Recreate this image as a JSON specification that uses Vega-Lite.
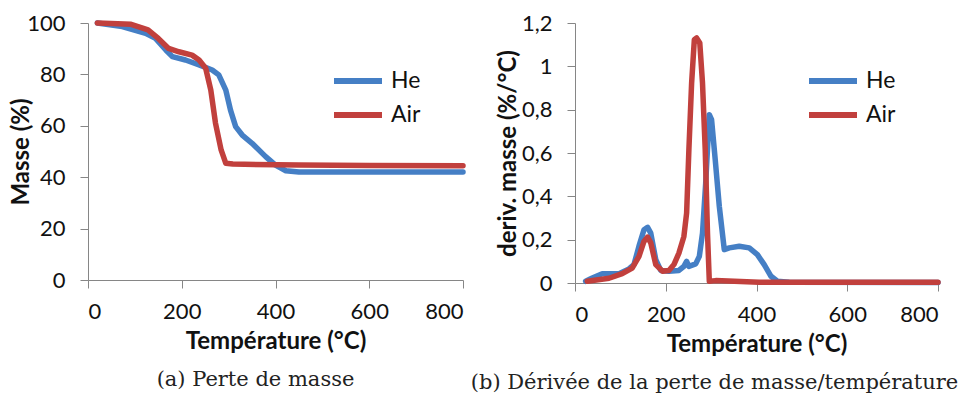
{
  "$schema": "https://vega.github.io/schema/vega-lite/v6.json",
  "padding": {"left": 9, "top": 12, "right": 0, "bottom": 0},
  "bounds": "flush",
  "spacing": 112,
  "datasets": {
    "masse": [
      {"gaz": "He", "T": 20, "v": 100}, {"gaz": "He", "T": 73, "v": 98.6}, {"gaz": "He", "T": 123, "v": 96.0}, {"gaz": "He", "T": 144, "v": 94.0}, {"gaz": "He", "T": 166, "v": 89.5}, {"gaz": "He", "T": 180, "v": 86.9}, {"gaz": "He", "T": 208, "v": 85.6}, {"gaz": "He", "T": 237, "v": 83.7}, {"gaz": "He", "T": 265, "v": 81.7}, {"gaz": "He", "T": 279, "v": 79.8}, {"gaz": "He", "T": 294, "v": 73.9}, {"gaz": "He", "T": 304, "v": 66.1}, {"gaz": "He", "T": 315, "v": 59.7}, {"gaz": "He", "T": 329, "v": 56.4}, {"gaz": "He", "T": 350, "v": 53.2}, {"gaz": "He", "T": 379, "v": 48.0}, {"gaz": "He", "T": 400, "v": 44.7}, {"gaz": "He", "T": 422, "v": 42.5}, {"gaz": "He", "T": 450, "v": 42.0}, {"gaz": "He", "T": 600, "v": 42.0}, {"gaz": "He", "T": 800, "v": 42.0},
      {"gaz": "Air", "T": 20, "v": 100}, {"gaz": "Air", "T": 92, "v": 99.5}, {"gaz": "Air", "T": 128, "v": 97.3}, {"gaz": "Air", "T": 150, "v": 94.0}, {"gaz": "Air", "T": 172, "v": 90.1}, {"gaz": "Air", "T": 194, "v": 88.8}, {"gaz": "Air", "T": 222, "v": 87.5}, {"gaz": "Air", "T": 237, "v": 85.6}, {"gaz": "Air", "T": 251, "v": 82.4}, {"gaz": "Air", "T": 262, "v": 73.9}, {"gaz": "Air", "T": 272, "v": 61.0}, {"gaz": "Air", "T": 284, "v": 50.6}, {"gaz": "Air", "T": 294, "v": 45.4}, {"gaz": "Air", "T": 309, "v": 45.1}, {"gaz": "Air", "T": 450, "v": 44.7}, {"gaz": "Air", "T": 600, "v": 44.6}, {"gaz": "Air", "T": 800, "v": 44.5}
    ],
    "deriv": [
      {"gaz": "He", "T": 23.5, "v": 0.008}, {"gaz": "He", "T": 38, "v": 0.023}, {"gaz": "He", "T": 60, "v": 0.043}, {"gaz": "He", "T": 97, "v": 0.043}, {"gaz": "He", "T": 119, "v": 0.065}, {"gaz": "He", "T": 130, "v": 0.085}, {"gaz": "He", "T": 141, "v": 0.17}, {"gaz": "He", "T": 152, "v": 0.246}, {"gaz": "He", "T": 160, "v": 0.257}, {"gaz": "He", "T": 167, "v": 0.23}, {"gaz": "He", "T": 178, "v": 0.108}, {"gaz": "He", "T": 189, "v": 0.058}, {"gaz": "He", "T": 207, "v": 0.054}, {"gaz": "He", "T": 229, "v": 0.058}, {"gaz": "He", "T": 240, "v": 0.077}, {"gaz": "He", "T": 246, "v": 0.1}, {"gaz": "He", "T": 251, "v": 0.077}, {"gaz": "He", "T": 266, "v": 0.088}, {"gaz": "He", "T": 274, "v": 0.123}, {"gaz": "He", "T": 281, "v": 0.23}, {"gaz": "He", "T": 288, "v": 0.46}, {"gaz": "He", "T": 296, "v": 0.777}, {"gaz": "He", "T": 301, "v": 0.754}, {"gaz": "He", "T": 309, "v": 0.57}, {"gaz": "He", "T": 318, "v": 0.354}, {"gaz": "He", "T": 329, "v": 0.154}, {"gaz": "He", "T": 340, "v": 0.162}, {"gaz": "He", "T": 362, "v": 0.17}, {"gaz": "He", "T": 384, "v": 0.162}, {"gaz": "He", "T": 402, "v": 0.131}, {"gaz": "He", "T": 417, "v": 0.085}, {"gaz": "He", "T": 432, "v": 0.031}, {"gaz": "He", "T": 446, "v": 0.008}, {"gaz": "He", "T": 472, "v": 0.003}, {"gaz": "He", "T": 800, "v": 0.002},
      {"gaz": "Air", "T": 27, "v": 0.008}, {"gaz": "Air", "T": 75, "v": 0.022}, {"gaz": "Air", "T": 104, "v": 0.043}, {"gaz": "Air", "T": 126, "v": 0.069}, {"gaz": "Air", "T": 141, "v": 0.123}, {"gaz": "Air", "T": 152, "v": 0.192}, {"gaz": "Air", "T": 160, "v": 0.212}, {"gaz": "Air", "T": 167, "v": 0.185}, {"gaz": "Air", "T": 178, "v": 0.085}, {"gaz": "Air", "T": 193, "v": 0.054}, {"gaz": "Air", "T": 207, "v": 0.058}, {"gaz": "Air", "T": 218, "v": 0.085}, {"gaz": "Air", "T": 229, "v": 0.138}, {"gaz": "Air", "T": 240, "v": 0.215}, {"gaz": "Air", "T": 246, "v": 0.323}, {"gaz": "Air", "T": 251, "v": 0.615}, {"gaz": "Air", "T": 257, "v": 0.923}, {"gaz": "Air", "T": 263, "v": 1.123}, {"gaz": "Air", "T": 268, "v": 1.131}, {"gaz": "Air", "T": 275, "v": 1.108}, {"gaz": "Air", "T": 281, "v": 0.923}, {"gaz": "Air", "T": 287, "v": 0.615}, {"gaz": "Air", "T": 292, "v": 0.23}, {"gaz": "Air", "T": 296, "v": 0.008}, {"gaz": "Air", "T": 310, "v": 0.011}, {"gaz": "Air", "T": 406, "v": 0.003}, {"gaz": "Air", "T": 800, "v": 0.003}
    ]
  },
  "hconcat": [
    {
      "width": 375,
      "height": 257,
      "title": {"text": "(a)  Perte de masse", "dx": -20},
      "data": {"name": "masse"},
      "mark": {"type": "line", "strokeWidth": 5.5, "strokeJoin": "round", "strokeCap": "round"},
      "encoding": {
        "x": {"field": "T", "type": "quantitative", "title": "Température (°C)", "scale": {"domain": [0, 800], "nice": false}, "axis": {"values": [0, 200, 400, 600, 800]}},
        "y": {"field": "v", "type": "quantitative", "title": "Masse (%)", "scale": {"domain": [0, 100], "nice": false}, "axis": {"values": [0, 20, 40, 60, 80, 100], "titlePadding": -7}},
        "color": {"field": "gaz", "type": "nominal", "sort": ["He", "Air"], "scale": {"domain": ["He", "Air"], "range": ["#457fc5", "#c1403d"]}, "legend": {"orient": "none", "legendX": 243, "legendY": 43}}
      }
    },
    {
      "width": 363,
      "height": 260,
      "title": {"text": "(b)  Dérivée de la perte de masse/température", "dx": -42},
      "data": {"name": "deriv"},
      "mark": {"type": "line", "strokeWidth": 5.5, "strokeJoin": "round", "strokeCap": "round"},
      "encoding": {
        "x": {"field": "T", "type": "quantitative", "title": "Température (°C)", "scale": {"domain": [0, 800], "nice": false}, "axis": {"values": [0, 200, 400, 600, 800]}},
        "y": {"field": "v", "type": "quantitative", "title": "deriv. masse (%/°C)", "scale": {"domain": [0, 1.2], "nice": false}, "axis": {"values": [0, 0.2, 0.4, 0.6, 0.8, 1, 1.2], "format": ".1~f", "labelExpr": "replace(datum.label, '.', ',')", "titlePadding": 1}},
        "color": {"field": "gaz", "type": "nominal", "sort": ["He", "Air"], "scale": {"domain": ["He", "Air"], "range": ["#457fc5", "#c1403d"]}, "legend": {"orient": "none", "legendX": 231, "legendY": 43}}
      }
    }
  ],
  "resolve": {"scale": {"color": "independent"}, "legend": {"color": "independent"}},
  "config": {
    "font": "Lato",
    "view": {"stroke": null},
    "axis": {
      "grid": false,
      "domainColor": "#868686",
      "tickColor": "#868686",
      "tickSize": 8,
      "labelFont": "Lato",
      "labelFontSize": 22,
      "labelColor": "#111",
      "labelPadding": 15,
      "titleFont": "Lato",
      "titleFontSize": 24,
      "titleFontWeight": "bold",
      "titleColor": "#111"
    },
    "axisX": {"labelPadding": 13, "titlePadding": 7},
    "legend": {
      "title": null,
      "symbolType": "stroke",
      "symbolSize": 2304,
      "symbolStrokeWidth": 6,
      "labelFont": "Lato",
      "labelFontSize": 23,
      "labelColor": "#111",
      "labelOffset": 6,
      "clipHeight": 30,
      "rowPadding": 4
    },
    "title": {"font": "DejaVu Serif", "fontSize": 21, "fontWeight": "normal", "color": "#222", "orient": "bottom", "offset": 16}
  }
}
